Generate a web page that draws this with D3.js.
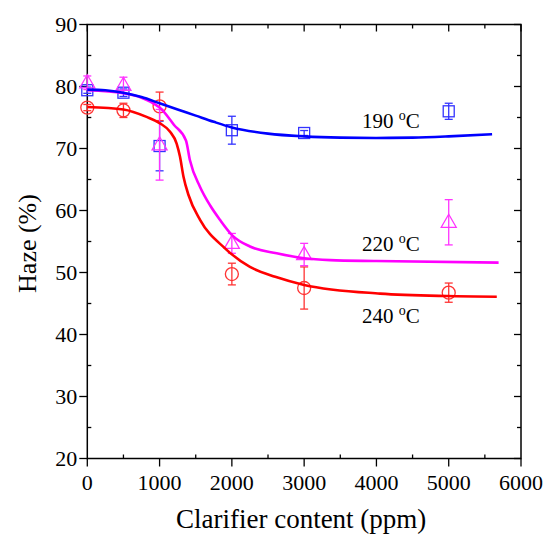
<!DOCTYPE html>
<html><head><meta charset="utf-8">
<script src="https://cdn.jsdelivr.net/npm/d3@7"></script>
<style>body{margin:0;background:#fff}svg{display:block}text{font-family:"Liberation Serif","Times New Roman",serif;fill:#000}</style>
</head><body><div id="chart"></div>
<script>
// ---- data ----
const ppm = [0, 500, 1000, 2000, 3000, 5000];
const haze190 = [79.4, 79.0, 70.4, 72.95, 72.5, 76.0];
const err190  = [0.5, 0.6, 4.0, 2.25, 0.4, 1.3];
const haze220 = [80.6, 80.2, 70.6, 54.7, 52.9, 58.1];
const err220  = [1.1, 1.3, 5.7, 1.6, 1.8, 3.65];
const haze240 = [76.6, 76.15, 76.8, 49.75, 47.5, 46.75];
const err240  = [0.5, 1.15, 2.3, 1.75, 3.4, 1.55];
// fitted curves: [ppm, haze]
const fit190 = [[0,79.5],[250,79.4],[500,79.0],[750,78.3],[1000,77.3],[1250,76.3],[1500,75.3],[1750,74.3],[2000,73.4],[2500,72.4],[3000,71.95],[3500,71.75],[4000,71.7],[4500,71.75],[5000,71.95],[5600,72.3]];
const fit220 = [[0,79.4],[500,78.9],[1000,76.6],[1200,73.8],[1365,71.3],[1420,68.1],[1560,63.8],[1700,60.8],[1835,58.5],[2005,56.0],[2250,54.2],[2620,53.1],[3000,52.3],[3360,52.0],[4000,51.85],[5690,51.6]];
const fit240 = [[0,76.7],[500,76.3],[820,75.1],[1000,74.1],[1145,72.7],[1236,70.8],[1282,68.7],[1330,65.5],[1400,62.5],[1560,58.5],[1905,53.9],[2250,50.9],[2600,49.3],[3000,48.0],[4050,46.6],[4975,46.2],[5665,46.1]];
const seriesLabels = ["190", "220", "240"];
const xTicks = [0,1000,2000,3000,4000,5000,6000];
const yTicks = [20,30,40,50,60,70,80,90];
const xTitle = "Clarifier content (ppm)";
const yTitle = "Haze (%)";

const W = 546, H = 537;
const svg = d3.select("#chart").append("svg").attr("width", W).attr("height", H);
const x = d3.scaleLinear().domain([0, 6000]).range([87.3, 521]);
const y = d3.scaleLinear().domain([20, 90]).range([458.5, 24.5]);
const L = x.range()[0], R = x.range()[1], T = y.range()[1], B = y.range()[0];

// frame
svg.append("rect").attr("x", L).attr("y", T).attr("width", R - L).attr("height", B - T)
  .attr("fill", "none").attr("stroke", "#000").attr("stroke-width", 1.5);

const xMinor = d3.range(500, 6000, 1000);
const yMinor = d3.range(25, 90, 10);
const tk = svg.append("g").attr("stroke", "#000").attr("stroke-width", 1.3);
xTicks.forEach(v => tk.append("line").attr("x1", x(v)).attr("x2", x(v)).attr("y1", B).attr("y2", B + 8));
xMinor.forEach(v => tk.append("line").attr("x1", x(v)).attr("x2", x(v)).attr("y1", B).attr("y2", B - 4));
xTicks.forEach(v => tk.append("line").attr("x1", x(v)).attr("x2", x(v)).attr("y1", T).attr("y2", T + 7));
xMinor.forEach(v => tk.append("line").attr("x1", x(v)).attr("x2", x(v)).attr("y1", T).attr("y2", T + 4));
yTicks.forEach(v => tk.append("line").attr("x1", L - 8).attr("x2", L).attr("y1", y(v)).attr("y2", y(v)));
yMinor.forEach(v => tk.append("line").attr("x1", L).attr("x2", L + 4).attr("y1", y(v)).attr("y2", y(v)));
yTicks.forEach(v => tk.append("line").attr("x1", R - 7).attr("x2", R).attr("y1", y(v)).attr("y2", y(v)));
yMinor.forEach(v => tk.append("line").attr("x1", R - 4).attr("x2", R).attr("y1", y(v)).attr("y2", y(v)));

// tick labels
svg.append("g").selectAll("text").data(xTicks).join("text")
  .attr("x", d => x(d)).attr("y", B + 31).attr("text-anchor", "middle")
  .attr("font-size", 22).text(d => d);
svg.append("g").selectAll("text").data(yTicks).join("text")
  .attr("x", L - 10).attr("y", d => y(d) + 7.5).attr("text-anchor", "end")
  .attr("font-size", 22).text(d => d);

// titles
svg.append("text").attr("x", (L + R) / 2 - 3).attr("y", 528).attr("text-anchor", "middle")
  .attr("font-size", 27).text(xTitle);
svg.append("text").attr("transform", `translate(36,${(T + B) / 2 + 2}) rotate(-90)`)
  .attr("text-anchor", "middle").attr("font-size", 26).text(yTitle);

const cols = {"190": "#0000ff", "220": "#ff00ff", "240": "#ff0000"};
const mcols = {"190": "#3333ff", "220": "#ff33ff", "240": "#ff3333"};

function drawSeries(vals, errs, key, shape) {
  const g = svg.append("g").attr("stroke", mcols[key]).attr("fill", "none").attr("stroke-width", 1.3);
  ppm.forEach((p, i) => {
    const cx = x(p), top = y(vals[i] + errs[i]), bot = y(vals[i] - errs[i]);
    g.append("line").attr("x1", cx).attr("x2", cx).attr("y1", top).attr("y2", bot);
    g.append("line").attr("x1", cx - 4).attr("x2", cx + 4).attr("y1", top).attr("y2", top);
    g.append("line").attr("x1", cx - 4).attr("x2", cx + 4).attr("y1", bot).attr("y2", bot);
  });
  const m = svg.append("g").attr("stroke", mcols[key]).attr("stroke-width", 1.3).attr("fill", "none");
  ppm.forEach((p, i) => {
    const cx = x(p), cy = y(vals[i]);
    if (shape === "square") {
      m.append("rect").attr("x", cx - 5.5).attr("y", cy - 5.5).attr("width", 11).attr("height", 11);
    } else if (shape === "circle") {
      m.append("circle").attr("cx", cx).attr("cy", cy).attr("r", 6.5);
    } else {
      m.append("path").attr("d", `M${cx},${cy - 8}L${cx + 7.5},${cy + 5}L${cx - 7.5},${cy + 5}Z`);
    }
  });
}

const line = d3.line().x(d => x(d[0])).y(d => y(d[1])).curve(d3.curveMonotoneX);
drawSeries(haze190, err190, "190", "square");
drawSeries(haze240, err240, "240", "circle");
drawSeries(haze220, err220, "220", "triangle");
[[fit240, "240"], [fit220, "220"], [fit190, "190"]].forEach(([pts, k]) => {
  svg.append("path").datum(pts).attr("d", line).attr("fill", "none")
    .attr("stroke", cols[k]).attr("stroke-width", 2.6);
});

// curve labels
const labelPos = [[3800, 73.25], [3800, 53.4], [3800, 41.9]];
seriesLabels.forEach((s, i) => {
  const t = svg.append("text").attr("x", x(labelPos[i][0])).attr("y", y(labelPos[i][1]))
    .attr("font-size", 21);
  t.append("tspan").text(s + " ");
  t.append("tspan").attr("font-size", 14).attr("dy", -8).text("o");
  t.append("tspan").attr("dy", 8).text("C");
});
</script></body></html>
